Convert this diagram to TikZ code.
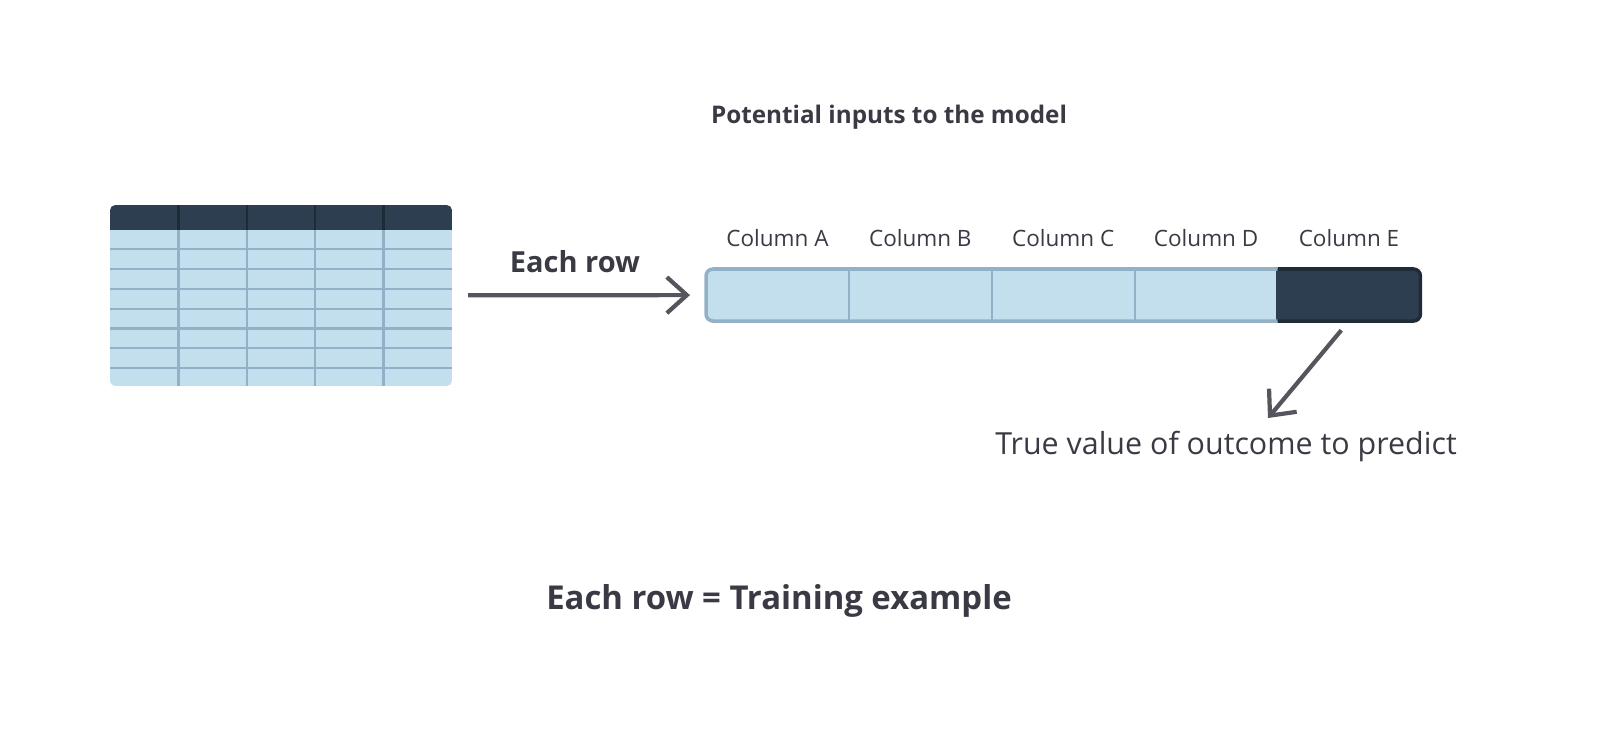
\documentclass[tikz,border=0pt]{standalone}
\usepackage{fontspec}
\setmainfont{Open Sans}
\usetikzlibrary{arrows.meta,positioning}

\definecolor{navy}{HTML}{2D3E50}
\definecolor{paleblue}{HTML}{C3DFED}
\definecolor{gridline}{HTML}{93B1C6}
\definecolor{inkgray}{HTML}{3A3A44}
\definecolor{arrowgray}{HTML}{55555E}

\begin{document}
\begin{tikzpicture}[x=0.01cm,y=-0.01cm,
  >={Straight Barb[length=0.2cm,width=0.36cm]},
  flow/.style={->,draw=arrowgray,line width=1.2pt},
  cell/.style={draw=gridline,line width=0.6pt,fill=paleblue,outer sep=0pt,
    minimum width=1.428cm,minimum height=0.52cm,inner sep=0pt,anchor=west},
  collabel/.style={text=inkgray,font=\fontsize{6.4}{8}\selectfont}]
  \useasboundingbox (0,0) rectangle (1600,753);

  % the data table
  \node[minimum width=3.42cm,minimum height=1.81cm,inner sep=0pt,outer sep=0pt] (table) at (281,295.5) {};
  \begin{scope}
    \clip[rounded corners=1.6pt] (table.south west) rectangle (table.north east);
    \fill[paleblue] (table.south west) rectangle (table.north east);
    \fill[navy] (110,205) rectangle (452,229.5);
    \foreach \r in {1,...,7}
      \draw[gridline,line width=0.65pt] (110,229.5+19.8*\r) -- (452,229.5+19.8*\r);
    \foreach \c in {1,...,4} {
      \draw[gridline,line width=0.65pt] (110+68.4*\c,229.5) -- (110+68.4*\c,386);
      \draw[navy!70!black,line width=0.65pt] (110+68.4*\c,205) -- (110+68.4*\c,229.5);
    }
  \end{scope}

  % one row of the table
  \begin{scope}
    \clip[rounded corners=2pt] (706,269) rectangle (1420,321);
    \node[cell] (colA) at (706,295) {};
    \node[cell,right=0pt of colA] (colB) {};
    \node[cell,right=0pt of colB] (colC) {};
    \node[cell,right=0pt of colC] (colD) {};
    \node[cell,right=0pt of colD,fill=navy,draw=navy] (colE) {};
  \end{scope}
  \draw[gridline,line width=1pt,rounded corners=2pt] (colE.north west) -- (colA.north west)
    -- (colA.south west) -- (colE.south west);
  \draw[navy!70!black,line width=1pt,rounded corners=2pt] (colE.north west) -- (colE.north east)
    -- (colE.south east) -- (colE.south west);

  \foreach \c in {A,B,C,D,E}
    \node[collabel] (lab\c) at ([yshift=0.31cm]col\c.north) {Column \c};

  \node[text=inkgray,font=\bfseries\fontsize{6.9}{8}\selectfont] (title) at (889,117)
    {Potential inputs to the model};

  % arrows and captions
  \node[text=inkgray,font=\bfseries\fontsize{8.25}{10}\selectfont] (eachrow) at (575,262) {Each row};
  \draw[flow,shorten <=0.16cm,shorten >=0.16cm] (table) -- (colA);

  \coordinate (tip) at (1268,418);
  \draw[flow,shorten <=0.12cm] (colE.south) -- (tip);
  \node[text=inkgray,font=\fontsize{8.65}{10}\selectfont] (truth) at (1226,446)
    {True value of outcome to predict};

  \node[text=inkgray,font=\bfseries\fontsize{9.35}{11}\selectfont] (summary) at (779,601)
    {Each row = Training example};
\end{tikzpicture}
\end{document}
